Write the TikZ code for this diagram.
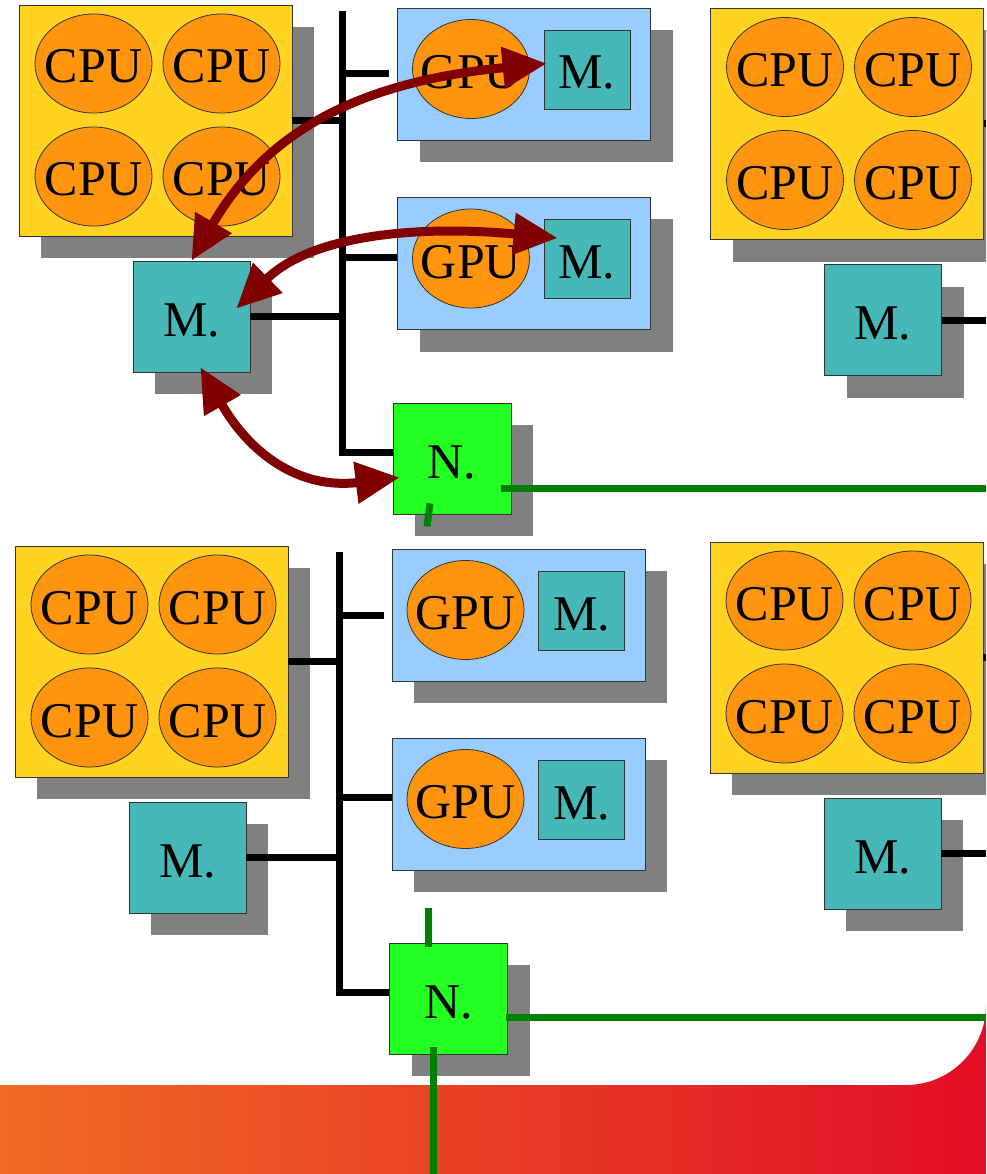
\documentclass[tikz,border=0pt]{standalone}
\usepackage{fontspec}
\setmainfont{Liberation Serif}
\usetikzlibrary{shapes.geometric,shadows,arrows.meta}
\definecolor{cpuyellow}{RGB}{255,211,32}
\definecolor{coreorange}{RGB}{255,149,14}
\definecolor{memteal}{RGB}{71,184,184}
\definecolor{gpublue}{RGB}{153,204,255}
\definecolor{netgreen}{RGB}{35,255,35}
\definecolor{shadowgray}{RGB}{128,128,128}
\definecolor{linkred}{RGB}{128,0,0}
\definecolor{wiregreen}{RGB}{0,128,0}
\definecolor{bandorange}{RGB}{239,108,36}
\definecolor{bandred}{RGB}{226,13,39}

\begin{document}
\begin{tikzpicture}[x=1pt,y=-1pt,font=\fontsize{50}{60}\selectfont,
  boxshadow/.style={drop shadow={shadow xshift=22pt,shadow yshift=-22pt,opacity=1,fill=shadowgray}},
  cpubox/.style={rectangle,draw=black!80,line width=0.8pt,fill=cpuyellow,minimum width=273pt,minimum height=231pt,boxshadow},
  core/.style={ellipse,draw=black!80,line width=0.8pt,fill=coreorange,minimum width=117pt,minimum height=99pt,inner xsep=-12pt,inner ysep=0pt,text height=39pt,text depth=0pt},
  mem/.style={rectangle,draw=black!80,line width=0.8pt,fill=memteal,minimum width=117pt,minimum height=111pt,text height=39pt,text depth=0pt,boxshadow},
  gpumem/.style={rectangle,draw=black!80,line width=0.8pt,fill=memteal,minimum width=86pt,minimum height=79pt,text height=39pt,text depth=0pt},
  gpubox/.style={rectangle,draw=black!80,line width=0.8pt,fill=gpublue,minimum width=253pt,minimum height=132pt,boxshadow},
  netbox/.style={rectangle,draw=black!80,line width=0.8pt,fill=netgreen,minimum width=118pt,minimum height=111pt,text height=39pt,text depth=0pt,boxshadow},
  bus/.style={line width=7pt,black},
  wire/.style={line width=7pt,wiregreen},
  hop/.style={line width=9pt,linkred,{Triangle[length=44pt,width=40pt]}-{Triangle[length=44pt,width=40pt]}}]
\useasboundingbox (0,0) rectangle (986,1174);
\clip (0,0) rectangle (986,1174);

% band at the foot of the slide
\shade[left color=bandorange,right color=bandred] (0,1085) -- (906,1085) arc[start angle=90,end angle=0,radius=80] -- (986,1174) -- (0,1174) -- cycle;

% four nodes: cpu box, its cores and its memory
\foreach \n/\cx/\cy in {A/155.5/120.5, B/847/124, C/151.5/661.5, D/846.5/657.5} {
\node[cpubox] (cpu\n) at (\cx,\cy) {};
\foreach \k/\dx/\dy in {1/-62/-57, 2/66/-57, 3/-62/56, 4/66/56}
  \node[core] (cpu\n\k) at ([shift={(\dx,\dy)}]cpu\n.center) {CPU};
\node[mem] (mem\n) at ([shift={(36,196)}]cpu\n.center) {M.};
}

% gpu cards
\foreach \g/\gx/\gy in {A/524/74, B/524/263.5, C/518.5/615, D/518.5/804} {
\node[gpubox] (gpu\g) at (\gx,\gy) {};
\node[core] (gcore\g) at ([shift={(-53,-5)}]gpu\g.center) {GPU};
\node[gpumem] (gmem\g) at ([shift={(63,-4.5)}]gpu\g.center) {M.};
}

% network cards
\node[netbox] (netA) at (452,458.5) {N.};
\node[netbox] (netC) at (448.5,998.5) {N.};

\coordinate (busA) at (342,11);
\coordinate (busC) at (339,552);
\coordinate (edge) at (986,0);
\coordinate (floor) at (0,1174);
\coordinate (gpuBin) at ([yshift=6pt]gpuB.west);
\coordinate (gpuDin) at ([yshift=7pt]gpuD.west);

% buses
\draw[bus] (busA) |- ([yshift=6pt]netA.west);
\draw[bus] (cpuA.east) -- (cpuA.east -| busA);
\draw[bus] (gpuA.west -| busA) -- ([xshift=-8pt]gpuA.west);
\draw[bus] (gpuBin -| busA) -- (gpuBin);
\draw[bus] (memA.east) -- (memA.east -| busA);

\draw[bus] (busC) |- ([yshift=6pt]netC.west);
\draw[bus] (cpuC.east) -- (cpuC.east -| busC);
\draw[bus] (gpuC.west -| busC) -- ([xshift=-8pt]gpuC.west);
\draw[bus] (gpuDin -| busC) -- (gpuDin);
\draw[bus] (memC.east) -- (memC.east -| busC);

\draw[bus] (cpuB.east) -- (cpuB.east -| edge);
\draw[bus] (memB.east) -- (memB.east -| edge);
\draw[bus] (cpuD.east) -- (cpuD.east -| edge);
\draw[bus] (memD.east) -- (memD.east -| edge);

% network wires
\coordinate (netAout) at ([shift={(-10,30)}]netA.east);
\draw[wire] (netAout) -- (netAout -| edge);
\draw[wire] ([shift={(-22,-11)}]netA.south) -- ([shift={(-25,12)}]netA.south);
\coordinate (netCout) at ([shift={(-2,18.5)}]netC.east);
\draw[wire] (netCout) -- (netCout -| edge);
\draw[wire] ([shift={(-20,-35)}]netC.north) -- ([shift={(-20,4)}]netC.north);
\coordinate (netCdown) at ([shift={(-15.5,-7)}]netC.south);
\draw[wire] (netCdown) -- (netCdown |- floor);

% transfers
\draw[hop] (memA.north) .. controls +(80,-138) and +(-173,17) .. ([shift={(3,-6)}]gmemA.west);
\draw[hop] ([shift={(-14,-8)}]memA.east) .. controls +(79,-77) and +(-128,-12) .. ([shift={(14,-21)}]gmemB.west);
\draw[hop] ([shift={(9,-5)}]memA.south) .. controls +(50,87) and +(-100,12) .. ([shift={(7,19)}]netA.west);
\end{tikzpicture}
\end{document}
